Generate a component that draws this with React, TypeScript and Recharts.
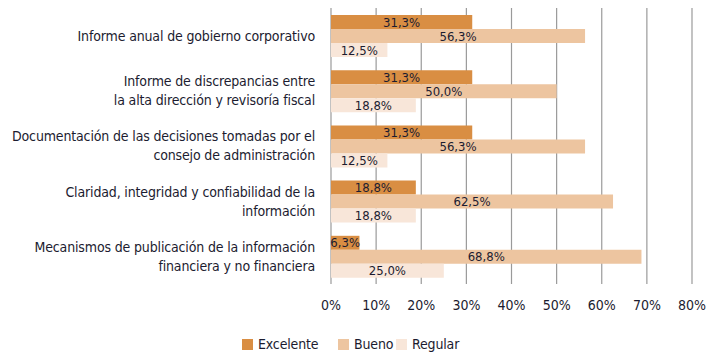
import React from 'react';
import { BarChart, Bar, XAxis, YAxis, CartesianGrid, LabelList, Legend } from 'recharts';

const categories = [
  'Informe anual de gobierno corporativo',
  'Informe de discrepancias entre\nla alta dirección y revisoría fiscal',
  'Documentación de las decisiones tomadas por el\nconsejo de administración',
  'Claridad, integridad y confiabilidad de la\ninformación',
  'Mecanismos de publicación de la información\nfinanciera y no financiera',
];
const excelente = [31.3, 31.3, 31.3, 18.8, 6.3];
const bueno = [56.3, 50.0, 56.3, 62.5, 68.8];
const regular = [12.5, 18.8, 12.5, 18.8, 25.0];
const xTicks = [0, 10, 20, 30, 40, 50, 60, 70, 80];
const seriesNames = ['Excelente', 'Bueno', 'Regular'];
const colors = ['#D98E43', '#EDC5A0', '#F8E6D9'];

const data = categories.map((c, i) => ({
  cat: c,
  Excelente: excelente[i],
  Bueno: bueno[i],
  Regular: regular[i],
}));

const FONT = "'DejaVu Sans Condensed', 'Liberation Sans Narrow', sans-serif";
const TEXT = '#1c1c30';

const fmt = (v: any) => `${Number(v).toFixed(1).replace('.', ',')}%`;

const YTick = (props: any) => {
  const { x, y, payload } = props;
  const lines = String(payload.value).split('\n');
  const lh = 19;
  const start = -((lines.length - 1) * lh) / 2;
  return (
    <text x={x} y={y} textAnchor="end" fill={TEXT} fontSize={14} letterSpacing={-0.15} fontFamily={FONT}>
      {lines.map((l, i) => (
        <tspan key={i} x={x} y={y + start + i * lh} dy="0.35em">{l}</tspan>
      ))}
    </text>
  );
};

const legendWidths = [96, 58, 80];

const LegendContent = () => (
  <div style={{ display: 'flex', alignItems: 'center', paddingLeft: 242, paddingTop: 12, fontFamily: FONT, fontSize: 14, color: TEXT }}>
    {seriesNames.map((n, i) => (
      <div key={n} style={{ display: 'flex', alignItems: 'center', width: legendWidths[i], whiteSpace: 'nowrap' }}>
        <span style={{ display: 'inline-block', width: 11, height: 11, background: colors[i], marginRight: 5 }} />
        <span style={{ letterSpacing: -0.15 }}>{n}</span>
      </div>
    ))}
  </div>
);

export default function App() {
  return (
    <div style={{ position: 'absolute', left: 0, top: 0, background: '#fff' }}>
      <BarChart
        width={728}
        height={361}
        data={data}
        layout="vertical"
        margin={{ top: 8, right: 36, left: 0, bottom: 0 }}
        barGap={0}
        barCategoryGap="12%"
      >
        <CartesianGrid horizontal={false} vertical stroke="#9a9a9a" strokeWidth={1.2} />
        <XAxis
          type="number"
          domain={[0, 80]}
          ticks={xTicks}
          tickFormatter={(v) => `${v}%`}
          axisLine={false}
          tickLine={false}
          tickMargin={10}
          height={40}
          interval={0}
          tick={{ fill: TEXT, fontSize: 14, fontFamily: FONT }}
        />
        <YAxis
          type="category"
          dataKey="cat"
          width={331}
          axisLine={false}
          tickLine={false}
          tick={<YTick />}
          tickMargin={10}
          interval={0}
        />
        <Legend verticalAlign="bottom" height={37} content={<LegendContent />} />
        {seriesNames.map((n, i) => (
          <Bar key={n} dataKey={n} fill={colors[i]} barSize={14} isAnimationActive={false}>
            <LabelList dataKey={n} position="center" formatter={fmt} fill={TEXT} fontSize={13} fontFamily={FONT} />
          </Bar>
        ))}
      </BarChart>
    </div>
  );
}
